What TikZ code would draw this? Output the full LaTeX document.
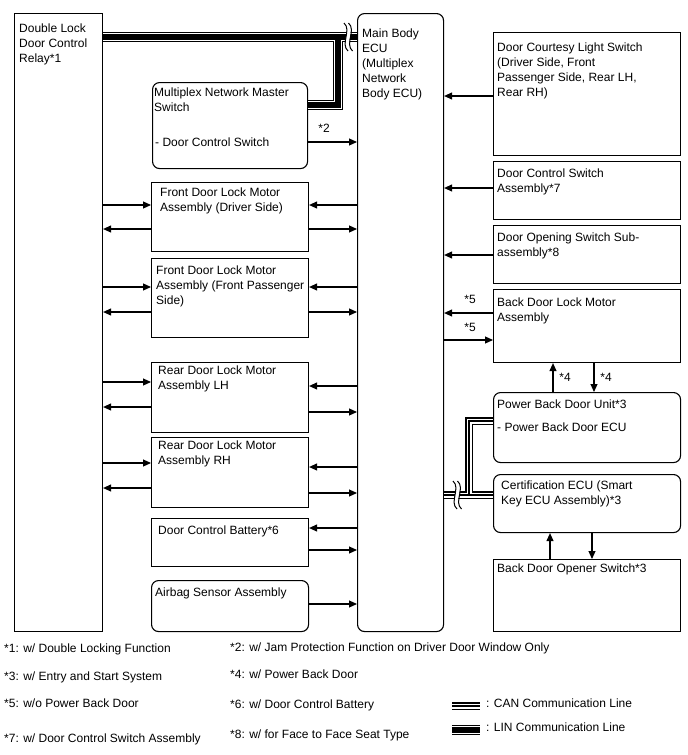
\documentclass[tikz,border=0pt]{standalone}
\usepackage{fontspec}
\setmainfont{Liberation Sans}
\usetikzlibrary{arrows.meta,calc}
\begin{document}
\begin{tikzpicture}[x=1pt,y=-1pt,
  box/.style={draw, line width=1.1pt, anchor=north west, inner sep=0pt},
  rbox/.style={box, rounded corners=7pt},
  txt/.style={anchor=north west, align=left, inner sep=0pt, font=\fontsize{12}{15}\selectfont},
  lbl/.style={inner sep=0pt, font=\fontsize{12}{15}\selectfont},
  arr/.style={line width=1.1pt, -{Triangle[length=8pt,width=7pt]}},
  busA/.style={line width=7.5pt, black},
  busB/.style={line width=5pt, white},
  busC/.style={line width=2pt, black},
  linA/.style={line width=10pt, black},
  linB/.style={line width=7.6pt, white},
  linC/.style={line width=6pt, black},
  brk/.style={line width=1pt}
]
\useasboundingbox (0,0) rectangle (688,755);

% ---------------- boxes ----------------
\node[box,  minimum width=88pt,  minimum height=618pt] (relay) at (14,13) {};
\node[rbox, minimum width=86pt,  minimum height=618pt] (ecu)   at (357,13) {};
\node[rbox, minimum width=155pt, minimum height=86pt]  (msw)   at (152,82) {};
\node[box,  minimum width=157pt, minimum height=69pt]  (drv)   at (151,182) {};
\node[box,  minimum width=157pt, minimum height=79pt]  (pas)   at (151,258) {};
\node[box,  minimum width=157pt, minimum height=70pt]  (rlh)   at (151,362) {};
\node[box,  minimum width=157pt, minimum height=70pt]  (rrh)   at (151,437) {};
\node[box,  minimum width=157pt, minimum height=48pt]  (batt)  at (151,518) {};
\node[rbox, minimum width=157pt, minimum height=51pt]  (air)   at (151,580) {};

\node[box,  minimum width=187pt, minimum height=123pt] (court) at (493,32) {};
\node[box,  minimum width=187pt, minimum height=58pt]  (dcs)   at (493,161) {};
\node[box,  minimum width=187pt, minimum height=58pt]  (dos)   at (493,225) {};
\node[box,  minimum width=187pt, minimum height=73pt]  (bdl)   at (493,289) {};
\node[rbox, minimum width=187pt, minimum height=70pt]  (pbd)   at (493,392) {};
\node[rbox, minimum width=187pt, minimum height=58pt]  (cert)  at (493,474) {};
\node[box,  minimum width=187pt, minimum height=72pt]  (opn)   at (493,559) {};

% ---------------- texts ----------------
\node[txt] (trelay) at (19,23.5) {Double Lock\\Door Control\\Relay*1};
\node[txt] (tecu) at (362,28.5) {Main Body\\ECU\\(Multiplex\\Network\\Body ECU)};
\node[txt] (tmsw) at (154,87.5) {Multiplex Network Master\\Switch};
\node[txt] (tmsw2) at (155,137.5) {- Door Control Switch};
\node[txt] (tdrv) at (160,187.5) {Front Door Lock Motor\\Assembly (Driver Side)};
\node[txt] (tpas) at (156,265.5) {Front Door Lock Motor\\Assembly (Front Passenger\\Side)};
\node[txt] (trlh) at (158,365.5) {Rear Door Lock Motor\\Assembly LH};
\node[txt] (trrh) at (158,440.5) {Rear Door Lock Motor\\Assembly RH};
\node[txt] (tbatt) at (158,525.5) {Door Control Battery*6};
\node[txt] (tair) at (155,587.5) {Airbag Sensor Assembly};

\node[txt] (tcourt) at (497,42.5) {Door Courtesy Light Switch\\(Driver Side, Front\\Passenger Side, Rear LH,\\Rear RH)};
\node[txt] (tdcs) at (497,168.5) {Door Control Switch\\Assembly*7};
\node[txt] (tdos) at (497,232.5) {Door Opening Switch Sub-\\assembly*8};
\node[txt] (tbdl) at (497,297.5) {Back Door Lock Motor\\Assembly};
\node[txt] (tpbd) at (497,399.5) {Power Back Door Unit*3};
\node[txt] (tpbd2) at (497,422.5) {- Power Back Door ECU};
\node[txt] (tcert) at (501,480.5) {Certification ECU (Smart\\Key ECU Assembly)*3};
\node[txt] (topn) at (497,563.5) {Back Door Opener Switch*3};

% ---------------- arrows left column ----------------
\draw[arr] (relay.east |- 0,205) -- (drv.west |- 0,205);
\draw[arr] (drv.west |- 0,229) -- (relay.east |- 0,229);
\draw[arr] (relay.east |- 0,287) -- (pas.west |- 0,287);
\draw[arr] (pas.west |- 0,312) -- (relay.east |- 0,312);
\draw[arr] (relay.east |- 0,382) -- (rlh.west |- 0,382);
\draw[arr] (rlh.west |- 0,407) -- (relay.east |- 0,407);
\draw[arr] (relay.east |- 0,463) -- (rrh.west |- 0,463);
\draw[arr] (rrh.west |- 0,488) -- (relay.east |- 0,488);

% ---------------- arrows middle ----------------
\draw[arr] (msw.east |- 0,142) -- (ecu.west |- 0,142);
\node[lbl] (l2) at (324,128) {*2};
\draw[arr] (ecu.west |- 0,205) -- (drv.east |- 0,205);
\draw[arr] (drv.east |- 0,229) -- (ecu.west |- 0,229);
\draw[arr] (ecu.west |- 0,287) -- (pas.east |- 0,287);
\draw[arr] (pas.east |- 0,312) -- (ecu.west |- 0,312);
\draw[arr] (ecu.west |- 0,386) -- (rlh.east |- 0,386);
\draw[arr] (rlh.east |- 0,412) -- (ecu.west |- 0,412);
\draw[arr] (ecu.west |- 0,467) -- (rrh.east |- 0,467);
\draw[arr] (rrh.east |- 0,493) -- (ecu.west |- 0,493);
\draw[arr] (ecu.west |- 0,528) -- (batt.east |- 0,528);
\draw[arr] (batt.east |- 0,550) -- (ecu.west |- 0,550);
\draw[arr] (air.east |- 0,604) -- (ecu.west |- 0,604);

% ---------------- arrows right column ----------------
\draw[arr] (court.west |- 0,96) -- (ecu.east |- 0,96);
\draw[arr] (dcs.west |- 0,188) -- (ecu.east |- 0,188);
\draw[arr] (dos.west |- 0,255) -- (ecu.east |- 0,255);
\draw[arr] (bdl.west |- 0,313) -- (ecu.east |- 0,313);
\node[lbl] (l5a) at (470,299) {*5};
\draw[arr] (ecu.east |- 0,340) -- (bdl.west |- 0,340);
\node[lbl] (l5b) at (470,327) {*5};
\draw[arr] (pbd.north -| 553,0) -- (bdl.south -| 553,0);
\node[lbl] (l4a) at (565,377) {*4};
\draw[arr] (bdl.south -| 594,0) -- (pbd.north -| 594,0);
\node[lbl] (l4b) at (606,377) {*4};
\draw[arr] (opn.north -| 550,0) -- (cert.south -| 550,0);
\draw[arr] (cert.south -| 592,0) -- (opn.north -| 592,0);

% ---------------- LIN bus (top) ----------------
\coordinate (lj) at (338,37);
\coordinate (lk) at (338,105);
\foreach \s in {linA,linB,linC}{
  \draw[\s, line join=miter] (relay.east |- lj) -- (ecu.west |- lj);
  \draw[\s, line join=miter] (msw.east |- lk) -- (lk) -- (lj);
}
% break mark top
\draw[white, line width=4pt] (346,23) .. controls (354,30) and (342,44) .. (350,51);
\draw[brk] (344,23) .. controls (352,30) and (340,44) .. (348,51);
\draw[brk] (348.5,23) .. controls (356.5,30) and (344.5,44) .. (352.5,51);

% ---------------- CAN bus (bottom right) ----------------
\coordinate (cj) at (469,495);
\coordinate (ck) at (469,421);
\foreach \s in {busA,busB,busC}{
  \draw[\s, line join=miter] (ecu.east |- cj) -- (cert.west |- cj);
  \draw[\s, line join=miter] (cj) -- (ck) -- (pbd.west |- ck);
}
% break mark bottom
\draw[white, line width=4pt] (455,481) .. controls (463,488) and (451,502) .. (459,509);
\draw[brk] (453,481) .. controls (461,488) and (449,502) .. (457,509);
\draw[brk] (457.5,481) .. controls (465.5,488) and (453.5,502) .. (461.5,509);

% ---------------- footnotes ----------------
\node[txt] (f1) at (4,643.5) {*1: w/ Double Locking Function};
\node[txt] (f2) at (230,642.5) {*2: w/ Jam Protection Function on Driver Door Window Only};
\node[txt] (f3) at (4,671.5) {*3: w/ Entry and Start System};
\node[txt] (f4) at (230,669.5) {*4: w/ Power Back Door};
\node[txt] (f5) at (4,698.5) {*5: w/o Power Back Door};
\node[txt] (f6) at (230,699.5) {*6: w/ Door Control Battery};
\node[txt] (f7) at (4,733.5) {*7: w/ Door Control Switch Assembly};
\node[txt] (f8) at (230,729.5) {*8: w/ for Face to Face Seat Type};

% legend
\coordinate (canL) at (452,706);
\coordinate (canR) at (480,706);
\coordinate (linL) at (452,730);
\coordinate (linR) at (480,730);
\foreach \s in {busA,busB,busC}{\draw[\s] (canL) -- (canR);}
\foreach \s in {linA,linB,linC}{\draw[\s] (linL) -- (linR);}
\node[txt] (tcan) at (486,698.5) {: CAN Communication Line};
\node[txt] (tlin) at (486,722.5) {: LIN Communication Line};
\end{tikzpicture}
\end{document}
